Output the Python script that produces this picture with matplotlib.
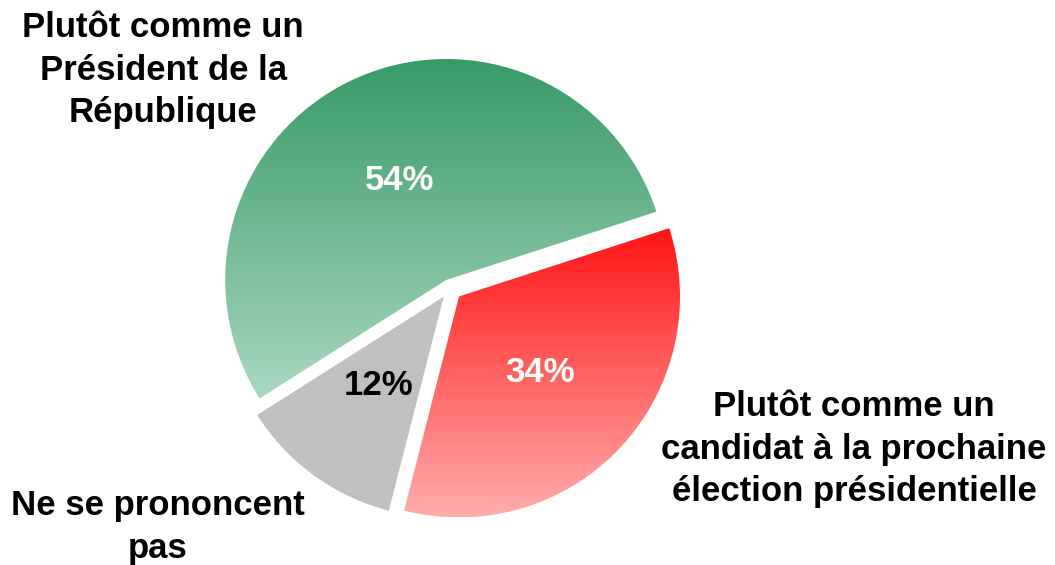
import numpy as np
import matplotlib
matplotlib.use("Agg")
import matplotlib.pyplot as plt
from matplotlib.colors import LinearSegmentedColormap

plt.rcParams['font.family'] = ['Liberation Sans', 'DejaVu Sans']

# Data
labels = ["Plutôt comme un\nPrésident de la\nRépublique",
          "Ne se prononcent\npas",
          "Plutôt comme un\ncandidat à la prochaine\nélection présidentielle"]
values = [54, 12, 34]
pct_colors = ["white", "black", "white"]
# (top colour, bottom colour) of each slice's vertical gradient
grad_colors = [("#379a66", "#a9d7c1"),
               ("#c0c0c0", "#c0c0c0"),
               ("#ff1414", "#ffadad")]
explode_frac = [0.04, 0.048, 0.056]

W, H = 1055, 565
R = 221
fig = plt.figure(figsize=(W / 100, H / 100), dpi=100)
ax = fig.add_axes([0, 0, 1, 1])

# pie() offsets exploded wedges in data units, so scale by the radius
wedges, _, autotexts = ax.pie(values, explode=[e * R for e in explode_frac],
                              startangle=18, center=(450, H - 288), radius=R,
                              autopct="%d%%", pctdistance=0.5, frame=True,
                              textprops=dict(fontsize=25, fontweight="bold"))

for w, (c_top, c_bot), tc, at in zip(wedges, grad_colors, pct_colors, autotexts):
    w.set_facecolor("none")
    w.set_edgecolor("none")
    bb = w.get_path().get_extents()
    cmap = LinearSegmentedColormap.from_list("g", [c_top, c_bot])
    grad = np.linspace(0, 1, 256).reshape(-1, 1)
    im = ax.imshow(grad, cmap=cmap, extent=(bb.x0, bb.x1, bb.y0, bb.y1),
                   origin="upper", aspect="auto", zorder=1)
    im.set_clip_path(w)
    at.set_color(tc)
    at.set_zorder(3)

ax.set_xlim(0, W)
ax.set_ylim(0, H)
ax.axis("off")

txt = dict(fontsize=25, fontweight="bold", ha="center", va="center",
           linespacing=1.36)
ax.text(163, H - 70, labels[0], **txt)
ax.text(158, H - 527, labels[1], **txt)
ax.text(854, H - 449, labels[2], **txt)

fig.savefig("out.png", dpi=100)
